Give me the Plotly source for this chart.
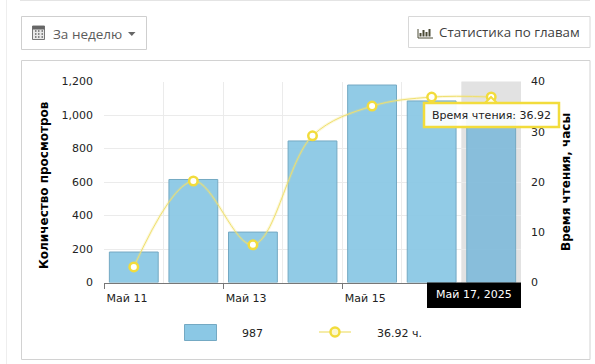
import plotly.graph_objects as go

W, H = 595, 364
categories = [0, 1, 2, 3, 4, 5, 6]
views = [182, 615, 301, 845, 1179, 1084, 987]
hours = [3.1, 20.2, 7.5, 29.2, 35.1, 36.9, 36.92]
tick_positions = [-0.5, 1.5, 3.5]
tick_labels = ["Май 11", "Май 13", "Май 15"]
left_ticks = [0, 200, 400, 600, 800, 1000, 1200]
right_ticks = [0, 10, 20, 30, 40]

PL, PR, PT, PB = 104, 521, 81.5, 282.5
def fx(p): return p / W
def fy(p): return 1 - p / H

BAR = "rgba(139,200,229,0.95)"
BAR_HOVER = "rgba(133,189,219,0.97)"
BAR_LINE = "#74a9c3"
YEL = "#f2dc3c"
TXT = "#222222"
FONT = "DejaVu Sans"
GRID = "#ebebeb"

fig = go.Figure()
fig.add_trace(go.Bar(
    x=categories, y=views, width=0.82,
    marker=dict(color=[BAR] * 6 + [BAR_HOVER], line=dict(color=BAR_LINE, width=1)),
    showlegend=False, hoverinfo="skip"))
fig.add_trace(go.Scatter(
    x=categories, y=hours, yaxis="y2", mode="lines",
    line=dict(color="rgba(245,228,110,0.25)", width=3, shape="spline", smoothing=1.0),
    showlegend=False, hoverinfo="skip"))
fig.add_trace(go.Scatter(
    x=categories, y=hours, yaxis="y2", mode="lines+markers",
    line=dict(color="#efdf70", width=1, shape="spline", smoothing=1.0),
    marker=dict(size=8.5, color="white", line=dict(color=YEL, width=2.5)),
    showlegend=False, hoverinfo="skip"))

def rect(x0, y0, x1, y1, **kw):
    fig.add_shape(type="rect", xref="paper", yref="paper",
                  x0=fx(x0), x1=fx(x1), y0=fy(y0), y1=fy(y1), **kw)

def seg(x0, y0, x1, y1, color, width=1, layer="below"):
    fig.add_shape(type="line", xref="paper", yref="paper", x0=fx(x0), x1=fx(x1),
                  y0=fy(y0), y1=fy(y1), line=dict(color=color, width=width), layer=layer)

def text(x, y, s, size=11, color=TXT, anchor="left", font=FONT, **kw):
    fig.add_annotation(xref="paper", yref="paper", x=fx(x), y=fy(y), text=s, showarrow=False,
                       xanchor=anchor, yanchor="middle", font=dict(size=size, color=color, family=font), **kw)

# page frame
seg(20, 0.5, 590, 0.5, "#e4e4e4")
seg(6.5, 0, 6.5, 364, "#eeeeee")
rect(21.5, 60.5, 590, 359.5, line=dict(color="#d2d2d2", width=1), fillcolor="white", layer="below")

# hover column
fig.add_shape(type="rect", xref="x", yref="paper", x0=5.5, x1=6.5, y0=fy(PB), y1=fy(PT),
              fillcolor="#e2e2e2", line_width=0, layer="below")

# buttons
rect(21.5, 16.5, 146.5, 49.5, line=dict(color="#cfcfcf", width=1), fillcolor="white", layer="below")
rect(408.5, 16.5, 590, 47.5, line=dict(color="#d8d8d8", width=1), fillcolor="white", layer="below")
text(51, 34, "За неделю", size=13.5, color="#5c5c5c", font="Open Sans")
text(437, 32, "Статистика по главам", size=13.3, color="#3f3f3f", font="Open Sans")
fig.add_shape(type="path", xref="paper", yref="paper",
              path=f"M {fx(128)} {fy(32)} L {fx(135.5)} {fy(32)} L {fx(131.8)} {fy(36)} Z",
              fillcolor="#666666", line_width=0)
# calendar icon
rect(32.5, 26, 44.5, 39.5, line=dict(color="#777777", width=1), fillcolor="#e8e8e8")
rect(32.5, 26, 44.5, 29.5, line_width=0, fillcolor="#666666")
for gx in (35, 38, 41.5):
    seg(gx, 31, gx + 1.5, 31, "#666666", 1.5, "above")
    seg(gx, 34, gx + 1.5, 34, "#666666", 1.5, "above")
    seg(gx, 37, gx + 1.5, 37, "#666666", 1.5, "above")
# bar-chart icon
seg(418, 29, 418, 38, "#4a4a35", 1, "above")
seg(418, 38, 433, 38, "#4a4a35", 1, "above")
for bx, by in ((420.5, 33), (423.5, 30), (426.5, 32), (429.5, 29)):
    seg(bx, by, bx, 36.5, "#4a4a35", 2, "above")

# axis titles
text(44, 185, "<b>Количество просмотров</b>", size=12, color="black", anchor="center", textangle=-90)
text(566, 182, "<b>Время чтения, часы</b>", size=12, color="black", anchor="center", textangle=-90)

# tooltip
fig.add_shape(type="path", xref="paper", yref="paper",
              path=f"M {fx(485)} {fy(103)} L {fx(491)} {fy(97)} L {fx(497)} {fy(103)} Z",
              fillcolor="#fffdf0", line=dict(color=YEL, width=2), layer="above")
rect(424, 103, 559, 127, line=dict(color=YEL, width=2.5), fillcolor="rgba(255,255,255,0.92)", layer="above")
text(491, 115, "Время чтения: 36.92", size=11, color="#222222", anchor="center")

# category balloon
rect(427, 282.5, 521, 308, fillcolor="black", line_width=0, layer="above")
text(474, 294, "Май 17, 2025", size=11, color="white", anchor="center")

# legend
rect(184.5, 324.5, 216.5, 340.5, fillcolor="#8bc8e5", line=dict(color=BAR_LINE, width=1), layer="above")
text(252, 333, "987", size=11, anchor="center")
seg(319, 332, 351, 332, "#efdf70", 1.2, "above")
fig.add_shape(type="circle", xref="paper", yref="paper", x0=fx(330.5), x1=fx(339.5), y0=fy(327.5), y1=fy(336.5),
              fillcolor="#fbf7d0", line=dict(color=YEL, width=2.5), layer="above")
text(375, 333, "36.92 ч.", size=11)

fig.update_layout(
    width=W, height=H, margin=dict(l=0, r=0, t=0, b=0, autoexpand=False),
    paper_bgcolor="white", plot_bgcolor="rgba(0,0,0,0)", showlegend=False,
    font=dict(family=FONT, size=11, color=TXT), bargap=0.18,
    xaxis=dict(domain=[fx(PL), fx(PR)], range=[-0.5, 6.5],
               tickmode="array", tickvals=tick_positions, ticktext=tick_labels,
               ticks="outside", ticklen=5, tickcolor="#777777", ticklabelshift=23,
               showline=True, linecolor="#777777", showgrid=True, gridcolor=GRID, zeroline=False,
               minor=dict(tick0=-0.5, dtick=1, showgrid=True, gridcolor=GRID, ticks=""),
               tickfont=dict(size=11, color=TXT)),
    yaxis=dict(domain=[fy(PB), fy(PT)], range=[0, 1200], tickvals=left_ticks,
               tickformat=",", showgrid=True, gridcolor=GRID, zeroline=False, ticks="",
               ticklabelstandoff=10, tickfont=dict(size=11, color=TXT)),
    yaxis2=dict(overlaying="y", side="right", range=[0, 40], tickvals=right_ticks,
                showgrid=False, zeroline=False, ticks="",
                ticklabelstandoff=9, tickfont=dict(size=11, color=TXT)),
)

fig.write_html("out.html", config={"displayModeBar": False},
               post_script="document.body.style.margin='0';")
